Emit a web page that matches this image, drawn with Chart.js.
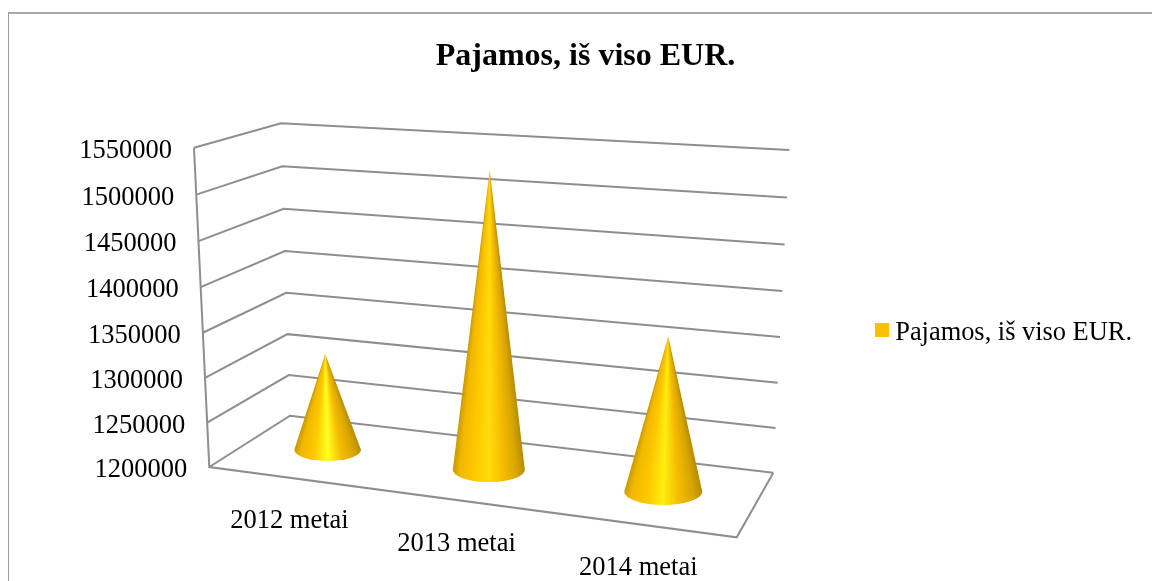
<!DOCTYPE html>
<html lang="lt">
<head>
    <meta charset="UTF-8">
    <title>Pajamos, iš viso EUR.</title>
    <script src="https://cdn.jsdelivr.net/npm/chart.js"></script>
    <style>
        html, body { margin: 0; padding: 0; background: #fff; overflow: hidden; width: 1152px; height: 581px; }
        #frame { position: absolute; left: 8px; top: 12px; border-left: 1px solid #9a9a9a; border-top: 2px solid #a8a8a8; }
        canvas { display: block; }
    </style>
</head>
<body>
    <div id="frame"><canvas id="coneChart" width="1153" height="567"></canvas></div>
    <script>
        const categories = ['2012 metai', '2013 metai', '2014 metai'];
        const seriesName = 'Pajamos, iš viso EUR.';
        const incomes = [1310000, 1527000, 1366000];
        const axisMin = 1200000;
        const axisMax = 1550000;
        const axisStep = 50000;

        // canvas origin on the page
        const originX = 9;
        const originY = 14;

        // corners of the 3D box, in page pixels
        const floorCorners = [[209.3, 467], [736.7, 537.3], [773.3, 472.7], [290, 415.7]];
        const topCorners = [[194, 147.7], [752.6, 181], [789.3, 150], [281, 123.3]];

        // unit square to quad
        function homography(q) {
            const [[x0, y0], [x1, y1], [x2, y2], [x3, y3]] = q;
            const sx = x0 - x1 + x2 - x3, sy = y0 - y1 + y2 - y3;
            const dx1 = x1 - x2, dx2 = x3 - x2, dy1 = y1 - y2, dy2 = y3 - y2;
            const den = dx1 * dy2 - dx2 * dy1;
            const g = (sx * dy2 - dx2 * sy) / den;
            const h = (dx1 * sy - sx * dy1) / den;
            const a = x1 - x0 + g * x1, b = x3 - x0 + h * x3;
            const d = y1 - y0 + g * y1, e = y3 - y0 + h * y3;
            return (u, w) => {
                const k = g * u + h * w + 1;
                return [(a * u + b * w + x0) / k, (d * u + e * w + y0) / k];
            };
        }
        const floorAt = homography(floorCorners);
        const topAt = homography(topCorners);

        // u across the categories, v up the value axis, w into the depth (0 = front)
        function project(u, v, w) {
            const vv = v * 0.967 / (1 - 0.033 * v);
            const b = floorAt(u, w), t = topAt(u, w);
            return [b[0] + (t[0] - b[0]) * vv - originX, b[1] + (t[1] - b[1]) * vv - originY];
        }

        function toU(chart, px) {
            return (px - chart.chartArea.left) / chart.chartArea.width;
        }
        function toV(chart, py) {
            return (chart.chartArea.bottom - py) / chart.chartArea.height;
        }

        function polyline(ctx, pts) {
            ctx.beginPath();
            pts.forEach((p, i) => i ? ctx.lineTo(p[0], p[1]) : ctx.moveTo(p[0], p[1]));
            ctx.stroke();
        }

        // legend swatch, sits a little above the text centre
        const swatch = document.createElement('canvas');
        swatch.width = 14;
        swatch.height = 20;
        const swatchCtx = swatch.getContext('2d');
        swatchCtx.fillStyle = '#FFC000';
        swatchCtx.fillRect(0, 0, 14, 14);

        // walls, floor and axis text, all taken from the chart scales
        const boxPlugin = {
            id: 'box3d',
            beforeDatasetsDraw(chart) {
                const ctx = chart.ctx, yScale = chart.scales.y, xScale = chart.scales.x;
                ctx.save();
                ctx.strokeStyle = '#8e8e8e';
                ctx.lineWidth = 2;
                yScale.ticks.forEach(tick => {
                    const v = toV(chart, yScale.getPixelForValue(tick.value));
                    polyline(ctx, [project(0, v, 0), project(0, v, 1), project(1, v, 1)]);
                });
                polyline(ctx, [project(0, 1, 0), project(0, 0, 0), project(1, 0, 0), project(1, 0, 1)]);

                ctx.fillStyle = '#000';
                ctx.font = '26.5px "Liberation Serif"';
                ctx.textAlign = 'right';
                ctx.textBaseline = 'middle';
                yScale.ticks.forEach(tick => {
                    const v = toV(chart, yScale.getPixelForValue(tick.value));
                    const p = project(0, v, 0);
                    ctx.fillText(String(tick.value), p[0] - 22, p[1] + 3);
                });

                ctx.textAlign = 'center';
                categories.forEach((label, i) => {
                    const p = project(toU(chart, xScale.getPixelForTick(i)), 0, 0);
                    ctx.fillText(label, p[0] + 1 - i, p[1] + 44);
                });
                ctx.restore();
            }
        };

        // bar controller that paints each bar as a cone standing on the floor
        class ConeController extends Chart.BarController {
            static id = 'cone';
            static defaults = Chart.BarController.defaults;
            static overrides = Chart.BarController.overrides;

            draw() {
                const chart = this.chart, ctx = chart.ctx;
                const highlights = ['#FFFF22', '#FFDC0A', '#FFEE12'];
                this.getMeta().data.forEach((bar, i) => {
                    const u = toU(chart, bar.x);
                    const half = bar.width / chart.chartArea.width / 2;
                    const apex = project(u, toV(chart, bar.y), 0.5);
                    const base = project(u, 0, 0.5);
                    const rx = (project(u + half, 0, 0.5)[0] - project(u - half, 0, 0.5)[0]) / 2;
                    const ry = rx * 0.34;
                    const spread = Math.atan2(rx, base[1] - apex[1]);
                    const tilt = Math.atan2(base[0] - apex[0], base[1] - apex[1]);
                    const grad = ctx.createConicGradient(Math.PI / 2 - tilt - spread, apex[0], apex[1]);
                    const span = spread / Math.PI;
                    // conic sweep runs from the right edge round to the left edge
                    grad.addColorStop(0, '#B68C00');
                    grad.addColorStop(span * 0.12, '#D9A600');
                    grad.addColorStop(span * 0.3, '#F5BC00');
                    grad.addColorStop(span * 0.5, highlights[i]);
                    grad.addColorStop(span * 0.7, '#FFC800');
                    grad.addColorStop(span * 0.9, '#F0B800');
                    grad.addColorStop(span, '#C79A00');
                    grad.addColorStop(Math.min(span * 1.02, 1), '#C79A00');
                    ctx.save();
                    ctx.fillStyle = grad;
                    ctx.beginPath();
                    ctx.moveTo(apex[0], apex[1]);
                    ctx.lineTo(base[0] - rx, base[1]);
                    ctx.ellipse(base[0], base[1], rx, ry, 0, Math.PI, 0, true);
                    ctx.closePath();
                    ctx.fill();
                    ctx.restore();
                });
            }
        }
        Chart.register(ConeController);

        new Chart(document.getElementById('coneChart'), {
            type: 'cone',
            data: {
                labels: categories,
                datasets: [{
                    label: seriesName,
                    data: incomes,
                    backgroundColor: '#FFC000',
                    borderWidth: 0,
                    barPercentage: 0.43,
                    categoryPercentage: 1,
                    clip: false
                }]
            },
            options: {
                responsive: false,
                animation: false,
                layout: { padding: { left: 20, right: 20 } },
                scales: {
                    x: { display: false },
                    y: {
                        display: false,
                        min: axisMin,
                        max: axisMax,
                        ticks: { stepSize: axisStep }
                    }
                },
                plugins: {
                    title: {
                        display: true,
                        text: seriesName,
                        color: '#000',
                        font: { family: '"Liberation Serif"', size: 32, weight: 'bold' },
                        padding: { top: 23.4, bottom: 9.2 }
                    },
                    legend: {
                        position: 'right',
                        fullSize: false,
                        labels: {
                            color: '#000',
                            font: { family: '"Liberation Serif"', size: 26.4 },
                            usePointStyle: true,
                            pointStyle: swatch,
                            boxWidth: 0.01,
                            boxHeight: 14,
                            padding: 10
                        }
                    },
                    tooltip: { enabled: false }
                }
            },
            plugins: [boxPlugin]
        });
    </script>
</body>
</html>
